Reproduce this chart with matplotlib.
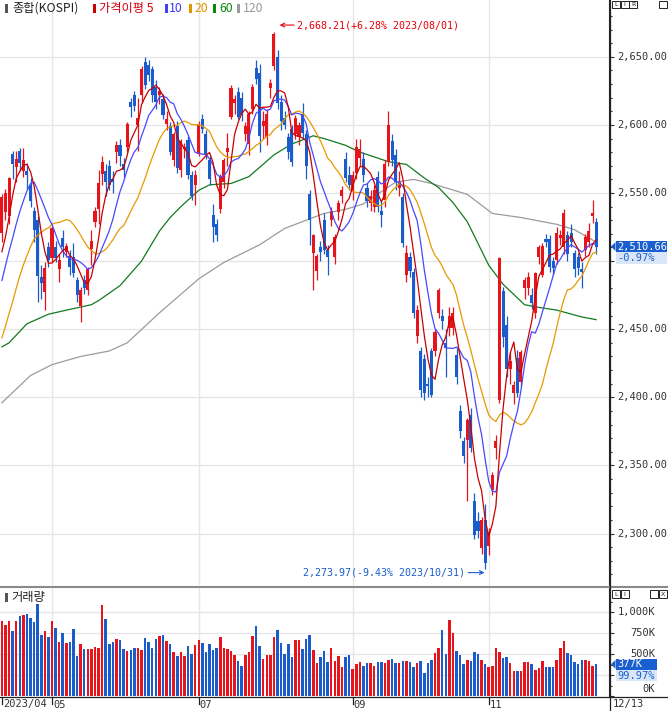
import numpy as np
import pandas as pd
import matplotlib
matplotlib.use("Agg")
import matplotlib.pyplot as plt
from matplotlib.patches import Rectangle, Polygon
from matplotlib.lines import Line2D
from matplotlib.transforms import IdentityTransform

# KOSPI daily candles, 2023/04/11 ~ 2023/12/13 (167 sessions)
opens = [2521, 2536, 2533, 2579, 2569, 2581, 2566, 2566, 2556, 2537, 2530, 2488, 2477, 2510,
         2502, 2510, 2494, 2517, 2507, 2504, 2503, 2486, 2467, 2486, 2479, 2509, 2529, 2538,
         2564, 2566, 2570, 2560, 2580, 2585, 2571, 2584, 2617, 2622, 2600, 2622, 2646, 2644,
         2641, 2628, 2622, 2619, 2601, 2599, 2574, 2599, 2567, 2582, 2589, 2563, 2556, 2579,
         2604, 2593, 2574, 2534, 2527, 2538, 2558, 2580, 2606, 2616, 2624, 2620, 2593, 2586,
         2612, 2642, 2638, 2599, 2591, 2627, 2643, 2650, 2617, 2605, 2591, 2597, 2593, 2591,
         2608, 2593, 2549, 2506, 2493, 2510, 2530, 2508, 2530, 2503, 2536, 2548, 2575, 2563,
         2551, 2565, 2576, 2575, 2554, 2543, 2540, 2562, 2537, 2545, 2573, 2588, 2578, 2554,
         2547, 2490, 2503, 2492, 2445, 2434, 2428, 2410, 2434, 2434, 2462, 2460, 2440, 2451,
         2451, 2431, 2390, 2368, 2369, 2387, 2324, 2309, 2289, 2310, 2291, 2332, 2363, 2398,
         2478, 2453, 2421, 2403, 2429, 2411, 2480, 2480, 2475, 2462, 2503, 2490, 2516, 2516,
         2500, 2501, 2517, 2510, 2519, 2521, 2506, 2503, 2494, 2508, 2514, 2533, 2529]
highs = [2549, 2553, 2562, 2581, 2581, 2583, 2583, 2572, 2561, 2540, 2533, 2497, 2499, 2514,
         2526, 2515, 2505, 2523, 2513, 2508, 2513, 2488, 2481, 2490, 2496, 2523, 2540, 2567,
         2577, 2571, 2574, 2566, 2588, 2590, 2576, 2602, 2620, 2625, 2620, 2643, 2650, 2648,
         2643, 2633, 2628, 2623, 2610, 2602, 2595, 2603, 2590, 2587, 2592, 2566, 2567, 2603,
         2608, 2596, 2577, 2542, 2531, 2564, 2576, 2594, 2629, 2622, 2628, 2624, 2602, 2610,
         2630, 2648, 2645, 2610, 2612, 2634, 2668.21, 2655, 2622, 2610, 2594, 2600, 2607, 2602,
         2616, 2596, 2552, 2520, 2505, 2515, 2535, 2512, 2540, 2520, 2545, 2555, 2580, 2570,
         2566, 2590, 2590, 2580, 2557, 2552, 2556, 2566, 2545, 2574, 2610, 2593, 2582, 2566,
         2550, 2512, 2507, 2495, 2468, 2437, 2432, 2415, 2436, 2450, 2480, 2465, 2450, 2466,
         2466, 2436, 2394, 2371, 2385, 2392, 2330, 2316, 2312, 2322, 2304, 2345, 2372, 2503,
         2481, 2460, 2433, 2412, 2435, 2435, 2488, 2492, 2480, 2492, 2512, 2513, 2520, 2519,
         2503, 2525, 2523, 2538, 2522, 2527, 2508, 2506, 2499, 2520, 2528, 2545, 2532]
lows = [2514, 2530, 2527, 2560, 2558, 2566, 2562, 2552, 2540, 2514, 2470, 2472, 2464, 2496,
        2499, 2499, 2485, 2503, 2503, 2490, 2488, 2470, 2455, 2476, 2475, 2497, 2525, 2527,
        2556, 2548, 2552, 2550, 2572, 2570, 2562, 2580, 2606, 2610, 2581, 2616, 2626, 2632,
        2617, 2612, 2615, 2604, 2596, 2578, 2570, 2565, 2562, 2576, 2560, 2545, 2541, 2577,
        2594, 2575, 2556, 2514, 2515, 2535, 2554, 2570, 2604, 2608, 2604, 2603, 2588, 2578,
        2608, 2630, 2580, 2590, 2585, 2620, 2640, 2612, 2596, 2597, 2575, 2570, 2590, 2585,
        2590, 2560, 2512, 2479, 2486, 2500, 2505, 2490, 2526, 2498, 2530, 2543, 2558, 2552,
        2545, 2560, 2570, 2558, 2540, 2537, 2536, 2536, 2525, 2540, 2570, 2570, 2552, 2548,
        2510, 2485, 2488, 2458, 2440, 2400, 2398, 2400, 2400, 2430, 2458, 2450, 2415, 2445,
        2446, 2410, 2370, 2352, 2324, 2360, 2296, 2297, 2285, 2273.97, 2284, 2328, 2355, 2396,
        2437, 2415, 2410, 2395, 2400, 2408, 2472, 2475, 2465, 2458, 2498, 2488, 2510, 2492,
        2490, 2498, 2512, 2505, 2500, 2510, 2488, 2490, 2480, 2504, 2510, 2528, 2505]
closes = [2547, 2550, 2561, 2571, 2575, 2572, 2574, 2563, 2544, 2523, 2489, 2484, 2495, 2501,
          2524, 2502, 2501, 2510, 2511, 2496, 2491, 2475, 2479, 2480, 2494, 2515, 2537, 2557,
          2573, 2558, 2556, 2558, 2585, 2577, 2567, 2601, 2613, 2614, 2605, 2641, 2629, 2637,
          2622, 2617, 2625, 2607, 2604, 2580, 2593, 2568, 2588, 2584, 2563, 2548, 2563, 2601,
          2597, 2578, 2560, 2525, 2519, 2562, 2574, 2583, 2627, 2619, 2606, 2607, 2599, 2608,
          2628, 2634, 2592, 2603, 2608, 2631, 2667, 2616, 2603, 2600, 2580, 2573, 2605, 2600,
          2594, 2570, 2530, 2519, 2504, 2507, 2508, 2503, 2537, 2518, 2543, 2552, 2561, 2556,
          2563, 2584, 2582, 2563, 2544, 2548, 2552, 2540, 2534, 2571, 2600, 2574, 2558, 2558,
          2513, 2506, 2493, 2462, 2464, 2405, 2403, 2408, 2402, 2448, 2479, 2456, 2436, 2460,
          2462, 2415, 2375, 2357, 2383, 2363, 2299, 2302, 2310, 2278, 2301, 2343, 2368, 2502,
          2444, 2421, 2427, 2409, 2403, 2433, 2486, 2488, 2469, 2491, 2510, 2511, 2514, 2496,
          2495, 2521, 2519, 2535, 2505, 2514, 2494, 2495, 2492, 2518, 2522, 2535, 2510.66]
# closes of the 19 sessions before the window (for the 5/10/20 averages)
prev_closes = [2379, 2377, 2395, 2379, 2388, 2416, 2424, 2414, 2409, 2434, 2443, 2453, 2476,
               2472, 2480, 2495, 2490, 2490, 2512]
# volume, thousand shares
volumes = [897, 843, 893, 769, 897, 955, 959, 971, 934, 880,
           1091, 731, 769, 698, 893, 806, 645, 748, 628, 645,
           793, 471, 624, 558, 558, 558, 583, 570, 1079, 917,
           624, 640, 682, 669, 558, 533, 545, 570, 570, 550,
           686, 645, 570, 674, 711, 723, 657, 624, 521, 471,
           521, 471, 595, 496, 607, 669, 628, 521, 624, 545,
           570, 698, 570, 558, 533, 483, 421, 360, 488, 521,
           719, 835, 595, 446, 483, 483, 698, 781, 636, 500,
           616, 459, 669, 669, 558, 682, 731, 545, 388, 459,
           533, 409, 570, 421, 471, 347, 459, 483, 318, 376,
           409, 360, 388, 397, 360, 409, 409, 397, 426, 446,
           388, 388, 421, 421, 409, 347, 397, 421, 273, 388,
           434, 508, 570, 781, 500, 905, 756, 533, 483, 384,
           434, 421, 521, 504, 434, 380, 351, 360, 570, 521,
           450, 459, 388, 293, 298, 293, 405, 409, 384, 310,
           335, 421, 347, 347, 347, 434, 566, 657, 512, 483,
           409, 380, 434, 434, 421, 360, 377]
# 60 / 120 day averages (session index, value)
ma60_at = [0, 2, 7, 13, 18, 25, 27, 33, 39, 44, 47, 50, 55, 58, 64, 69, 76, 81, 87, 90, 96,
           100, 108, 113, 118, 122, 126, 130, 133, 136, 140, 146, 150, 155, 162, 166]
ma60_val = [2437, 2440, 2454, 2461, 2464, 2468, 2471, 2482, 2500, 2522, 2532, 2540, 2552,
            2556, 2557, 2562, 2578, 2586, 2592, 2590, 2585, 2580, 2573, 2571, 2561, 2554,
            2543, 2529, 2513, 2497, 2483, 2468, 2466, 2464, 2459, 2457]
ma120_at = [0, 4, 8, 14, 22, 30, 35, 44, 55, 62, 72, 79, 85, 90, 96, 101, 106, 110, 115,
            120, 130, 137, 145, 155, 160, 166]
ma120_val = [2396, 2406, 2416, 2424, 2430, 2434, 2440, 2462, 2487, 2499, 2512, 2524, 2530,
             2535, 2538, 2542, 2551, 2558, 2560, 2557, 2549, 2535, 2532, 2527, 2523, 2514]

month_at = [0, 14, 55, 98, 136]
month_lbl = ["2023/04", "05", "07", "09", "11"]
price_ticks = [2300, 2350, 2400, 2450, 2500, 2550, 2600, 2650]

RED = "#e8141c"
BLUE = "#1a5ccc"
plt.rcParams['font.family'] = ['Noto Sans CJK KR', 'DejaVu Sans']
MONO = 'DejaVu Sans Mono'

W, H = 668, 711
fig = plt.figure(figsize=(W / 100, H / 100), dpi=100)
fig.patch.set_facecolor("white")
ID = IdentityTransform()


def px(x, y):
    # top-left pixel coords -> display coords
    return (x, H - y)


ax = fig.add_axes([0, 1 - 585 / H, 609 / W, 585 / H])
axv = fig.add_axes([0, 1 - 696 / H, 609 / W, 108 / H])

xlo, xhi = -0.53, 169.6
for a in (ax, axv):
    a.set_xlim(xlo, xhi)
    a.set_facecolor("none")
    for s in ("top", "left", "bottom"):
        a.spines[s].set_visible(False)
    a.spines["right"].set_color("#222")
    a.yaxis.tick_right()
    a.set_xticks([])
    a.tick_params(axis="y", which="both", direction="out", color="#333",
                  labelright=False, width=0.8)
    a.tick_params(axis="y", which="major", length=3.5)
    a.tick_params(axis="y", which="minor", length=2)
    for m in month_at[1:]:
        a.axvline(m, color="#e6e6e6", lw=1, zorder=0)

ax.set_ylim(2262.2, 2691.7)
ax.set_yticks(price_ticks)
ax.set_yticks(np.arange(2270, 2690, 10), minor=True)
for v in price_ticks:
    ax.axhline(v, color="#e6e6e6", lw=1, zorder=0)
    if v != 2500:
        ax.text(617 / 609, v, f"{v:,.2f}", transform=ax.get_yaxis_transform(),
                fontfamily=MONO, fontsize=7.5, color="#333", va="center", clip_on=False)

idx = np.arange(len(closes))
o = np.array(opens, float)
c = np.array(closes, float)
colors = np.where(c >= o, RED, BLUE)

# moving averages
allc = pd.Series(prev_closes + closes, dtype=float)
n0 = len(prev_closes)
ma_cols = {5: "#c80000", 10: "#4848ff", 20: "#e69a00"}
ax.plot(ma120_at, ma120_val, color="#9b9b9b", lw=0.9, zorder=2)
ax.plot(ma60_at, ma60_val, color="#127a1e", lw=0.9, zorder=2)
for k in (20, 10, 5):
    ma = allc.rolling(k).mean().iloc[n0:].values
    ax.plot(idx, ma, color=ma_cols[k], lw=0.9, zorder=5)

# candles
ax.vlines(idx, lows, highs, colors=colors, lw=0.9, zorder=3)
ax.bar(idx, np.maximum(np.abs(c - o), 0.8), bottom=np.minimum(o, c), width=0.86,
       color=colors, zorder=4, linewidth=0)

# high / low annotations
ax.annotate("", xy=(76.8, 2673.3), xytext=(82.4, 2673.3),
            arrowprops=dict(arrowstyle="->", color="#e8000b", lw=0.8, mutation_scale=7))
ax.text(82.4, 2673.3, "2,668.21(+6.28% 2023/08/01)", fontfamily=MONO, fontsize=7.2,
        color="#e8000b", va="center", ha="left")
ax.annotate("", xy=(135.6, 2271.3), xytext=(129.5, 2271.3),
            arrowprops=dict(arrowstyle="->", color=BLUE, lw=0.8, mutation_scale=7))
ax.text(129.5, 2271.3, "2,273.97(-9.43% 2023/10/31)", fontfamily=MONO, fontsize=7.2,
        color=BLUE, va="center", ha="right")

# volume pane
axv.set_ylim(0, 1286)
axv.set_yticks([0, 250, 500, 750, 1000])
axv.set_yticks(np.arange(125, 1250, 125), minor=True)
for v in (250, 500, 750, 1000):
    axv.axhline(v, color="#e6e6e6", lw=1, zorder=0)
axv.bar(idx, volumes, width=0.7, color=colors, linewidth=0, zorder=3)
for v, lbl in ((1000, "1,000K"), (750, "750K"), (500, "500K"), (80, "0K")):
    axv.text(655 / 609, v, lbl, transform=axv.get_yaxis_transform(), fontfamily=MONO,
             fontsize=7.5, color="#333", va="center", ha="right", clip_on=False)

# frame lines
fig.add_artist(Line2D([0, W], [H - 586.5, H - 586.5], transform=ID, color="#8a8a8a", lw=1.5))
fig.add_artist(Line2D([0, W], [H - 696.5, H - 696.5], transform=ID, color="#222", lw=0.9))
fig.add_artist(Line2D([609.5, 609.5], [0, H], transform=ID, color="#222", lw=0.9))

# last value markers
def value_box(y, top_txt, bot_txt, right):
    fig.add_artist(Polygon([px(611, y), px(615.5, y - 4.5), px(615.5, y + 4.5)], closed=True,
                           transform=ID, fc=BLUE, ec="none"))
    fig.add_artist(Rectangle(px(616, y + 5.5), right - 616, 11, transform=ID, fc="#1a5fd0", ec="none"))
    fig.add_artist(Rectangle(px(616, y + 17), right - 616, 11.5, transform=ID, fc="#d9e6f8", ec="none"))
    fig.text(*px(617, y), top_txt, transform=ID, fontfamily=MONO, fontsize=7.5, color="white", va="center")
    fig.text(*px(617, y + 11.5), bot_txt, transform=ID, fontfamily=MONO, fontsize=7.5, color="#1a5fd0", va="center")


y_last = H - ax.transData.transform((0, closes[-1]))[1]
value_box(y_last, "2,510.66", "-0.97%", 667)
y_vol = H - axv.transData.transform((0, volumes[-1]))[1]
value_box(y_vol, "377K", "99.97%", 657)

# x axis labels
for m, lbl in zip(month_at, month_lbl):
    xp = axv.transData.transform((m, 0))[0]
    fig.add_artist(Line2D([xp, xp], [H - 697, H - 704], transform=ID, color="#222", lw=0.9))
    fig.text(*px(xp + 1, 704.5), lbl, transform=ID, fontfamily=MONO, fontsize=7.5,
             color="#333", va="center")
fig.text(*px(613, 704.5), "12/13", transform=ID, fontfamily=MONO, fontsize=7.5, color="#333", va="center")

# title legend
def mark(x, y, col):
    fig.add_artist(Rectangle(px(x, y + 4.5), 2.5, 9, transform=ID, fc=col, ec="none"))


ty = 8.5
items = [(5, 12.5, "종합(KOSPI)", "#555", "#222"),
         (93, 99, "가격이평 5", "#c80000", "#d4000f"),
         (165, 169, "10", "#4040ff", "#3a3aff"),
         (189, 195, "20", "#e09400", "#e09400"),
         (213, 219, "60", "#0a8a0a", "#0a8a0a"),
         (237, 243, "120", "#9a9a9a", "#9a9a9a")]
for mx, tx, txt, mc, tc in items:
    mark(mx, ty, mc)
    fig.text(*px(tx, ty), txt, transform=ID, fontsize=8.8, color=tc, va="center")

mark(5, 597, "#555")
fig.text(*px(11, 597), "거래량", transform=ID, fontsize=8.8, color="#222", va="center")

# small panel buttons
def button(x, y, w, h, txt):
    fig.add_artist(Rectangle(px(x, y + h), w, h, transform=ID, fc="white", ec="#222", lw=0.7))
    fig.text(*px(x + w / 2, y + h / 2), txt, transform=ID, fontfamily="DejaVu Sans",
             fontsize=4.5, color="#222", ha="center", va="center")


for i, t in enumerate("LIR"):
    button(612 + i * 8.5, 0.5, 8, 7, t)
button(659, 0.5, 8, 7, "")
for i, t in enumerate("LI"):
    button(612 + i * 8.5, 590, 8, 8, t)
button(650, 590, 8, 8, "")
button(659, 590, 8, 8, "X")

fig.savefig("out.png", dpi=100, facecolor="white")
